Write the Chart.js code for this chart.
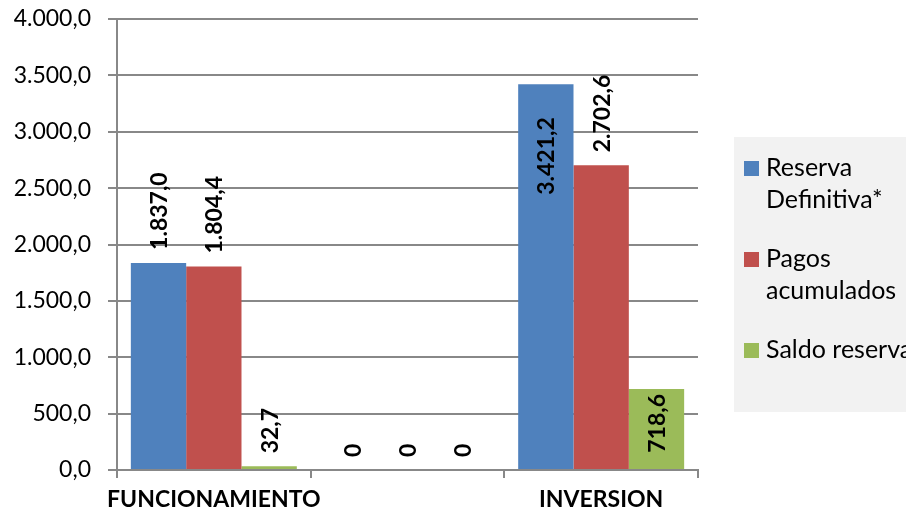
<!DOCTYPE html>
<html>
<head>
<meta charset="utf-8">
<script src="https://cdn.jsdelivr.net/npm/chart.js@4"></script>
<style>
  html, body { margin: 0; padding: 0; background: #fff; }
  #wrap { width: 906px; height: 518px; }
</style>
</head>
<body>
<div id="wrap"><canvas id="barChart" width="906" height="518"></canvas></div>
<script>
// categories and series
const categories = ['FUNCIONAMIENTO', '', 'INVERSION'];
const seriesNames = [['Reserva', 'Definitiva*'], ['Pagos', 'acumulados'], ['Saldo reserva']];
const reservaDefinitiva = [1837.0, 0, 3421.2];
const pagosAcumulados = [1804.4, 0, 2702.6];
const saldoReserva = [32.7, 0, 718.6];
const yTicks = [0, 500, 1000, 1500, 2000, 2500, 3000, 3500, 4000];

const colors = ['#4F81BD', '#C0504D', '#9BBB59'];
const FONT = 'Lato, "Open Sans", sans-serif';

function fmt(v, dec) {
  if (v === 0 && dec === undefined) return '0';
  return v.toLocaleString('de-DE', { minimumFractionDigits: 1, maximumFractionDigits: 1 });
}

// value labels, rotated, above the bar (or inside for a few)
const barLabels = {
  id: 'barLabels',
  afterDatasetsDraw(chart, args, opts) {
    const ctx = chart.ctx;
    ctx.save();
    ctx.font = 'bold 23px ' + FONT;
    ctx.fillStyle = '#000';
    ctx.textBaseline = 'middle';
    chart.data.datasets.forEach((ds, di) => {
      const meta = chart.getDatasetMeta(di);
      meta.data.forEach((bar, i) => {
        const v = ds.data[i];
        const inside = opts.inside[di + '-' + i];
        ctx.save();
        if (inside !== undefined) {
          ctx.translate(bar.x, bar.y + inside);
          ctx.rotate(-Math.PI / 2);
          ctx.textAlign = 'right';
        } else {
          ctx.translate(bar.x, bar.y - 13);
          ctx.rotate(-Math.PI / 2);
          ctx.textAlign = 'left';
        }
        ctx.fillText(fmt(v), 0, 1);
        ctx.restore();
      });
    });
    ctx.restore();
  }
};

// legend on the right with gray background
const sideLegend = {
  id: 'sideLegend',
  afterDraw(chart) {
    const ctx = chart.ctx;
    const left = chart.chartArea.right + 36;
    const top = 137;
    ctx.save();
    ctx.fillStyle = '#F2F2F2';
    ctx.fillRect(left, top, 906 - left, 275);
    ctx.font = '25px ' + FONT;
    ctx.textBaseline = 'middle';
    ctx.textAlign = 'left';
    let y = top + 31;
    seriesNames.forEach((lines, i) => {
      ctx.fillStyle = colors[i];
      ctx.fillRect(left + 10, y - 7, 15, 15);
      ctx.fillStyle = '#000';
      lines.forEach((t, j) => ctx.fillText(t, left + 32, y + j * 32));
      y += lines.length * 32 + 27;
    });
    ctx.restore();
  }
};

new Chart(document.getElementById('barChart').getContext('2d'), {
  type: 'bar',
  data: {
    labels: categories,
    datasets: [
      { label: seriesNames[0].join(' '), data: reservaDefinitiva, backgroundColor: colors[0] },
      { label: seriesNames[1].join(' '), data: pagosAcumulados, backgroundColor: colors[1] },
      { label: seriesNames[2].join(' '), data: saldoReserva, backgroundColor: colors[2] }
    ]
  },
  options: {
    responsive: false,
    animation: false,
    categoryPercentage: 0.857,
    barPercentage: 1,
    layout: { padding: { top: 19, right: 208, bottom: 0, left: 0 } },
    scales: {
      x: {
        afterFit(scale) { scale.height = 48; },
        grid: { offset: true, drawOnChartArea: false, drawTicks: true, tickLength: 8, color: '#888', lineWidth: 2 },
        border: { display: true, color: '#888', width: 2 },
        ticks: {
          color: '#000', padding: 8, maxRotation: 0, minRotation: 0, autoSkip: false,
          font: { family: FONT, size: 23, weight: 'bold' }
        }
      },
      y: {
        min: 0,
        max: 4000,
        afterFit(scale) {
          scale.width = 117;
          scale.paddingTop = 0;
          scale.paddingBottom = 0;
        },
        afterBuildTicks(scale) { scale.ticks = yTicks.map(v => ({ value: v })); },
        grid: { color: '#888', lineWidth: 2, tickLength: 9 },
        border: { display: true, color: '#888', width: 2 },
        ticks: {
          color: '#000',
          padding: 17,
          font: { family: FONT, size: 23 },
          callback: v => fmt(v, 1)
        }
      }
    },
    plugins: {
      legend: { display: false },
      tooltip: { enabled: false },
      barLabels: { inside: { '0-2': 33, '2-2': 5 } }
    }
  },
  plugins: [barLabels, sideLegend]
});
</script>
</body>
</html>
